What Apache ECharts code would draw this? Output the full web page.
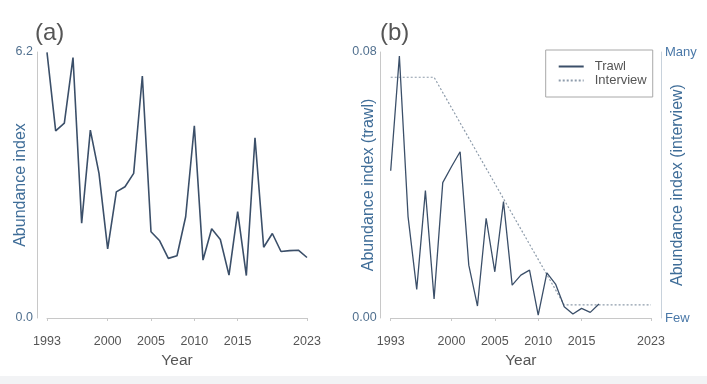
<!DOCTYPE html>
<html><head><meta charset="utf-8">
<script src="https://cdn.jsdelivr.net/npm/echarts@6/dist/echarts.min.js"></script>
<style>html,body{margin:0;padding:0;background:#fff}#c{width:707px;height:384px}</style>
</head><body><div id="c"></div>
<script>
// ---- data ----
const years = [];
for (let y = 1993; y <= 2023; y++) years.push(String(y));
const tickYears = ['1993','2000','2005','2010','2015','2023'];
// panel (a) abundance index 1993-2023
const abundanceA = [6.19,4.36,4.54,6.07,2.21,4.38,3.37,1.61,2.94,3.06,3.37,5.64,2.01,1.80,1.39,1.45,2.36,4.48,1.35,2.08,1.83,1.00,2.48,0.99,4.20,1.65,1.97,1.55,1.57,1.58,1.41];
// panel (b) trawl abundance index 1993-2017
const trawlB = [0.0443,0.0788,0.0305,0.0086,0.0383,0.0057,0.0407,0.0455,0.0500,0.0159,0.0036,0.0300,0.0139,0.0350,0.0099,0.0129,0.0144,0.0009,0.0136,0.0102,0.0034,0.0012,0.0029,0.0017,0.0042];
// panel (b) interview index (0 = Few, 1 = Many), breakpoints
const interviewYears = ['1993','1998','2013','2023'];
const interviewVals = [0.905,0.905,0.049,0.049];
const yTicksA = [0, 6.2];
const yTicksB = [0, 0.08];
const interviewLabels = {0:'Few', 1:'Many'};

// ---- styles ----
const FONT = 'Liberation Sans, Arial, sans-serif';
const axisGray = '#c8c8c8';
const lineColor = '#3b4f69';
const nameColor = '#3f6d98';

function xAxis(gridIndex){
  return {
    type:'category', gridIndex, data: years, boundaryGap:false, offset:10,
    axisLine:{lineStyle:{color:axisGray,width:1}},
    axisTick:{show:true,length:3,interval:(i,v)=>tickYears.includes(v),lineStyle:{color:axisGray}},
    axisLabel:{interval:(i,v)=>tickYears.includes(v),color:'#555',fontSize:12.5,fontFamily:FONT,margin:7},
    name:'Year', nameLocation:'middle', nameGap:25, nameMoveOverlap:false,
    nameTextStyle:{color:'#555',fontSize:15.5,fontFamily:FONT},
    splitLine:{show:false}
  };
}

const option = {
  animation:false,
  backgroundColor:'#fff',
  textStyle:{fontFamily:FONT},
  grid:[
    {left:47, top:52, width:260, height:266, outerBoundsMode:'none', containLabel:false},
    {left:390.7, top:52, width:260.3, height:266, outerBoundsMode:'none', containLabel:false}
  ],
  xAxis:[xAxis(0), xAxis(1)],
  yAxis:[
    {type:'value',gridIndex:0,min:yTicksA[0],max:yTicksA[1],interval:yTicksA[1],offset:10,
     axisLine:{show:true,lineStyle:{color:axisGray}},axisTick:{show:false},splitLine:{show:false},
     axisLabel:{color:'#51708f',fontSize:12.5,fontFamily:FONT,margin:4,formatter:v=>v.toFixed(1)},
     name:'Abundance index',nameLocation:'middle',nameGap:8,nameRotate:90,nameMoveOverlap:false,
     nameTextStyle:{color:nameColor,fontSize:16,fontFamily:FONT}},
    {type:'value',gridIndex:1,min:yTicksB[0],max:yTicksB[1],interval:yTicksB[1],offset:10,
     axisLine:{show:true,lineStyle:{color:axisGray}},axisTick:{show:false},splitLine:{show:false},
     axisLabel:{color:'#51708f',fontSize:12.5,fontFamily:FONT,margin:4,formatter:v=>v.toFixed(2)},
     name:'Abundance index (trawl)',nameLocation:'middle',nameGap:4,nameRotate:90,nameMoveOverlap:false,
     nameTextStyle:{color:nameColor,fontSize:16,fontFamily:FONT}},
    {type:'value',gridIndex:1,position:'right',min:0,max:1,interval:1,offset:10,
     axisLine:{show:true,lineStyle:{color:'#c8d2dc'}},axisTick:{show:false},splitLine:{show:false},
     axisLabel:{color:'#4a78a8',fontSize:13,fontFamily:FONT,margin:4,formatter:v=>interviewLabels[v]},
     name:'Abundance index (interview)',nameLocation:'middle',nameGap:9,nameRotate:90,nameMoveOverlap:false,
     nameTextStyle:{color:nameColor,fontSize:16,fontFamily:FONT}}
  ],
  legend:{
    left:545.7, top:50, orient:'vertical',
    padding:[10,6,10,12], itemGap:1, itemWidth:25, itemHeight:14,
    borderColor:'#a8a8a8', borderWidth:1,
    itemStyle:{opacity:0},
    textStyle:{color:'#555',fontSize:13,fontFamily:FONT,padding:[0,0,0,6]},
    data:['Trawl','Interview']
  },
  series:[
    {type:'line',xAxisIndex:0,yAxisIndex:0,data:abundanceA,symbol:'none',
     lineStyle:{color:lineColor,width:1.6},itemStyle:{color:lineColor}},
    {type:'line',name:'Interview',xAxisIndex:1,yAxisIndex:2,
     data:interviewYears.map((y,i)=>[y,interviewVals[i]]),symbol:'none',
     lineStyle:{color:'#8e9cab',width:1.2,type:[2,2]},itemStyle:{color:'#8e9cab'}},
    {type:'line',name:'Trawl',xAxisIndex:1,yAxisIndex:1,data:trawlB,symbol:'none',
     lineStyle:{color:lineColor,width:1.3},itemStyle:{color:lineColor}}
  ],
  graphic:[
    {type:'text',left:35,top:21,style:{text:'(a)',fontSize:24,fill:'#555',fontFamily:FONT}},
    {type:'text',left:380,top:21,style:{text:'(b)',fontSize:24,fill:'#555',fontFamily:FONT}},
    {type:'rect',left:0,top:376,shape:{width:707,height:8},style:{fill:'#f2f3f5'},z:-1}
  ]
};
const chart = echarts.init(document.getElementById('c'));
chart.setOption(option);
</script></body></html>
